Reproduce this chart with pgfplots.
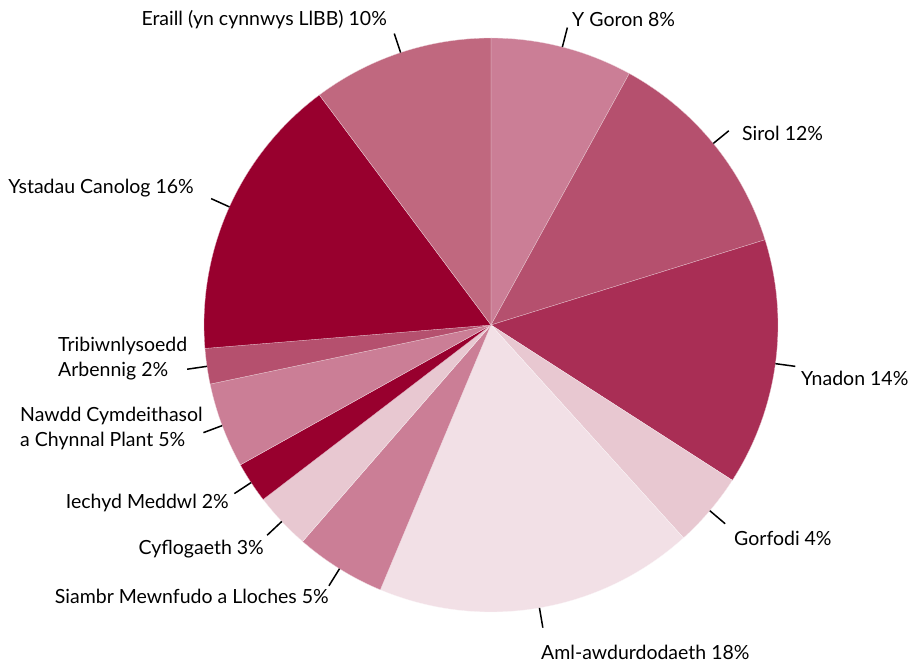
\documentclass[border=0pt]{standalone}
\usepackage{pgfplots}
\pgfplotsset{compat=1.18}
\usepackage{fontspec}
\setmainfont{Lato}
\definecolor{cGoron}{HTML}{CB7E96}
\definecolor{cSirol}{HTML}{B5506E}
\definecolor{cYnadon}{HTML}{A92E55}
\definecolor{cLight}{HTML}{E8C8D1}
\definecolor{cPale}{HTML}{F2E0E6}
\definecolor{cDark}{HTML}{98002E}
\definecolor{cEraill}{HTML}{C0687F}
\begin{document}
\begin{tikzpicture}
\begin{axis}[hide axis, scale only axis, x=287pt, y=287pt,
  xmin=-1.71080, xmax=1.45645, ymin=-1.18118, ymax=1.13240, clip=false]
\path (rel axis cs:0,0) rectangle (rel axis cs:1,1);
% slices: angles measured clockwise from top, cumulative shares (%) x 3.6
\pgfplotsset{slice/.style={fill=#1, draw=white!70!#1, line width=0.3pt, samples=40, variable=\t}}
\addplot[slice=cGoron,  domain=0:28.8]       ({sin(\t)},{cos(\t)}) -- (axis cs:0,0) -- cycle;
\addplot[slice=cSirol,  domain=28.8:72.72]   ({sin(\t)},{cos(\t)}) -- (axis cs:0,0) -- cycle;
\addplot[slice=cYnadon, domain=72.72:122.76] ({sin(\t)},{cos(\t)}) -- (axis cs:0,0) -- cycle;
\addplot[slice=cLight,  domain=122.76:137.88]({sin(\t)},{cos(\t)}) -- (axis cs:0,0) -- cycle;
\addplot[slice=cPale,   domain=137.88:202.68]({sin(\t)},{cos(\t)}) -- (axis cs:0,0) -- cycle;
\addplot[slice=cGoron,  domain=202.68:221.04]({sin(\t)},{cos(\t)}) -- (axis cs:0,0) -- cycle;
\addplot[slice=cLight,  domain=221.04:232.56]({sin(\t)},{cos(\t)}) -- (axis cs:0,0) -- cycle;
\addplot[slice=cDark,   domain=232.56:240.84]({sin(\t)},{cos(\t)}) -- (axis cs:0,0) -- cycle;
\addplot[slice=cGoron,  domain=240.84:258.12]({sin(\t)},{cos(\t)}) -- (axis cs:0,0) -- cycle;
\addplot[slice=cSirol,  domain=258.12:265.32]({sin(\t)},{cos(\t)}) -- (axis cs:0,0) -- cycle;
\addplot[slice=cDark,   domain=265.32:323.28]({sin(\t)},{cos(\t)}) -- (axis cs:0,0) -- cycle;
\addplot[slice=cEraill, domain=323.28:360]   ({sin(\t)},{cos(\t)}) -- (axis cs:0,0) -- cycle;
% leader lines
\foreach \m in {14.4,50.76,97.74,130.32,170.28,211.86,226.8,236.7,249.48,261.72,294.3,341.64}{
  \edef\tmp{\noexpand\draw[black, line width=1.5pt] ({sin(\m)},{cos(\m)}) -- ({1.07*sin(\m)},{1.07*cos(\m)});}
  \tmp
}
% labels
\begin{scope}[every node/.style={font=\fontsize{19.5}{25}\selectfont, inner sep=0pt, text=black}]
\node[anchor=west] at (axis cs:0.2822,1.0627) {Y Goron 8\%};
\node[anchor=west] at (axis cs:0.8746,0.6690) {Sirol 12\%};
\node[anchor=west] at (axis cs:1.0801,-0.1847) {Ynadon 14\%};
\node[anchor=west] at (axis cs:0.8467,-0.7422) {Gorfodi 4\%};
\node[anchor=base west] at (axis cs:0.1742,-1.1655) {Aml-awdurdodaeth 18\%};
\node[anchor=east] at (axis cs:-0.5645,-0.9443) {Siambr Mewnfudo a Lloches 5\%};
\node[anchor=east] at (axis cs:-0.7909,-0.7805) {Cyflogaeth 3\%};
\node[anchor=east] at (axis cs:-0.9129,-0.6202) {Iechyd Meddwl 2\%};
\node[anchor=west, align=left] at (axis cs:-1.6411,-0.3589) {Nawdd Cymdeithasol\\a Chynnal Plant 5\%};
\node[anchor=west, align=left] at (axis cs:-1.5087,-0.1185) {Tribiwnlysoedd\\Arbennig 2\%};
\node[anchor=east] at (axis cs:-1.0348,0.4774) {Ystadau Canolog 16\%};
\node[anchor=east] at (axis cs:-0.3624,1.0627) {Eraill (yn cynnwys LlBB) 10\%};
\end{scope}
\end{axis}
\end{tikzpicture}
\end{document}
